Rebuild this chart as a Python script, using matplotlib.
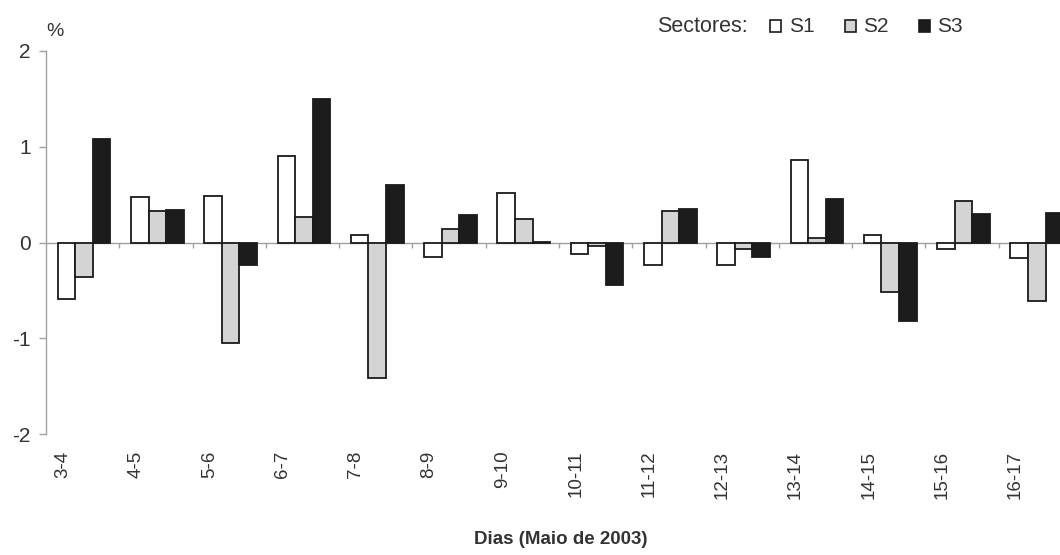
import matplotlib
matplotlib.use("Agg")
import matplotlib.pyplot as plt
from matplotlib.patches import Rectangle
from matplotlib.transforms import ScaledTranslation
import numpy as np

plt.rcParams['font.family'] = ['Liberation Sans', 'DejaVu Sans']

# Daily variation (%) per sector, May 2003
periods = ["3-4", "4-5", "5-6", "6-7", "7-8", "8-9", "9-10", "10-11",
           "11-12", "12-13", "13-14", "14-15", "15-16", "16-17"]
s1 = [-0.59, 0.47, 0.49, 0.90, 0.08, -0.15, 0.52, -0.12, -0.24, -0.24, 0.86, 0.08, -0.07, -0.16]
s2 = [-0.36, 0.33, -1.05, 0.27, -1.41, 0.14, 0.25, -0.04, 0.33, -0.07, 0.05, -0.52, 0.43, -0.61]
s3 = [1.08, 0.34, -0.23, 1.50, 0.60, 0.29, 0.01, -0.44, 0.35, -0.15, 0.45, -0.82, 0.30, 0.31]
series_names = ["S1", "S2", "S3"]
fill_colors = ["#ffffff", "#d4d4d4", "#1c1c1c"]
edge_color = "#1a1a1a"
axis_gray = "#a0a0a0"
text_color = "#333333"

W, H = 1060, 555
fig = plt.figure(figsize=(W / 100, H / 100), dpi=100)
ax = fig.add_axes([46 / W, (H - 434) / H, 1026 / W, (434 - 51) / H])

x = np.arange(len(periods))
bw = 0.24
for k, vals in enumerate([s1, s2, s3]):
    ax.bar(x + (k - 1) * bw + 0.02, vals, width=bw, color=fill_colors[k],
           edgecolor=edge_color, linewidth=1.3, zorder=3)

ax.set_xlim(-0.5, len(periods) - 0.5)
ax.set_ylim(-2, 2)

# zero line with small category separators
ax.axhline(0, color=axis_gray, linewidth=1.0, zorder=2)
ax.vlines(x[:-1] + 0.5, -0.055, 0, color=axis_gray, linewidth=1.0, zorder=2)

for side in ["top", "right", "bottom"]:
    ax.spines[side].set_visible(False)
ax.spines["left"].set_color(axis_gray)
ax.spines["left"].set_linewidth(1.0)

ax.set_yticks([-2, -1, 0, 1, 2])
ax.set_yticklabels(["-2", "-1", "0", "1", "2"])
ax.tick_params(axis="y", colors=axis_gray, length=5, width=1.0,
               labelsize=15, labelcolor=text_color, pad=6)

ax.set_xticks(x)
ax.set_xticklabels(periods, rotation=90, fontsize=13.5, color=text_color)
ax.tick_params(axis="x", length=0, pad=12)
shift = ScaledTranslation(-20 / 100, 0, fig.dpi_scale_trans)
for lab in ax.get_xticklabels():
    lab.set_transform(lab.get_transform() + shift)
    lab.set_va("top")

fig.text(55 / W, 1 - 31 / H, "%", fontsize=14, color=text_color,
         ha="center", va="center")

fig.text(561 / W, 1 - 539 / H, "Dias (Maio de 2003)", fontsize=13.5,
         fontweight="bold", color=text_color, ha="center", va="center")

# legend row
ly = 1 - 26 / H
fig.text(657 / W, ly, "Sectores:", fontsize=15.5, color=text_color,
         ha="left", va="center")
for name, fc, sx, tx in zip(series_names, fill_colors,
                            [770, 845, 919], [789, 863, 937]):
    fig.patches.append(Rectangle((sx / W, ly - 5.5 / H), 11 / W, 11 / H,
                                 facecolor=fc, edgecolor=edge_color,
                                 linewidth=1.2, transform=fig.transFigure))
    fig.text(tx / W, ly, name, fontsize=15, color=text_color,
             ha="left", va="center")

fig.savefig("out.png", dpi=100, facecolor="white")
